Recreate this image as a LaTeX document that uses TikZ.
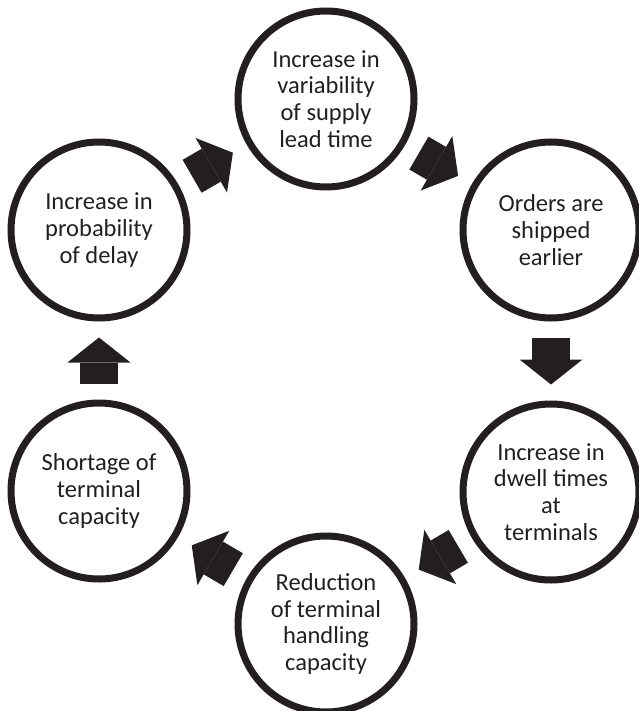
\documentclass[tikz,border=0pt]{standalone}
\usepackage{fontspec}
\setmainfont{Carlito}
\usepackage{tikz}
\usepackage{xcolor}
\usetikzlibrary{arrows.meta}

\definecolor{ink}{HTML}{231F20}

\tikzset{
    stage/.style={circle, draw=ink, line width=7pt, minimum size=176pt,
        inner sep=0pt, align=center, text=ink,
        font=\fontsize{24.5}{26.8}\selectfont},
    flow/.style={draw=ink, line width=38pt, shorten <=16pt, shorten >=16pt,
        -{Triangle[length=25pt, width=63pt, line width=0pt]}}
}

\begin{document}
\begin{tikzpicture}[x=1pt, y=-1pt]
    \useasboundingbox (0,0) rectangle (638,711);

    \node[stage] (variab)   at (326,99)  {Increase in\\variability\\of supply\\lead time};
    \node[stage] (orders)   at (551,230) {Orders are\\shipped\\earlier};
    \node[stage] (dwell)    at (551,492) {Increase in\\dwell times\\at\\terminals};
    \node[stage] (handling) at (326,624) {Reduction\\of terminal\\handling\\capacity};
    \node[stage] (shortage) at (99,491)  {Shortage of\\terminal\\capacity};
    \node[stage] (delay)    at (99,230)  {Increase in\\probability\\of delay};

    \draw[flow] (variab)   -- (orders);
    \draw[flow] (orders)   -- (dwell);
    \draw[flow] (dwell)    -- (handling);
    \draw[flow] (handling) -- (shortage);
    \draw[flow] (shortage) -- (delay);
    \draw[flow] (delay)    -- (variab);
\end{tikzpicture}
\end{document}
